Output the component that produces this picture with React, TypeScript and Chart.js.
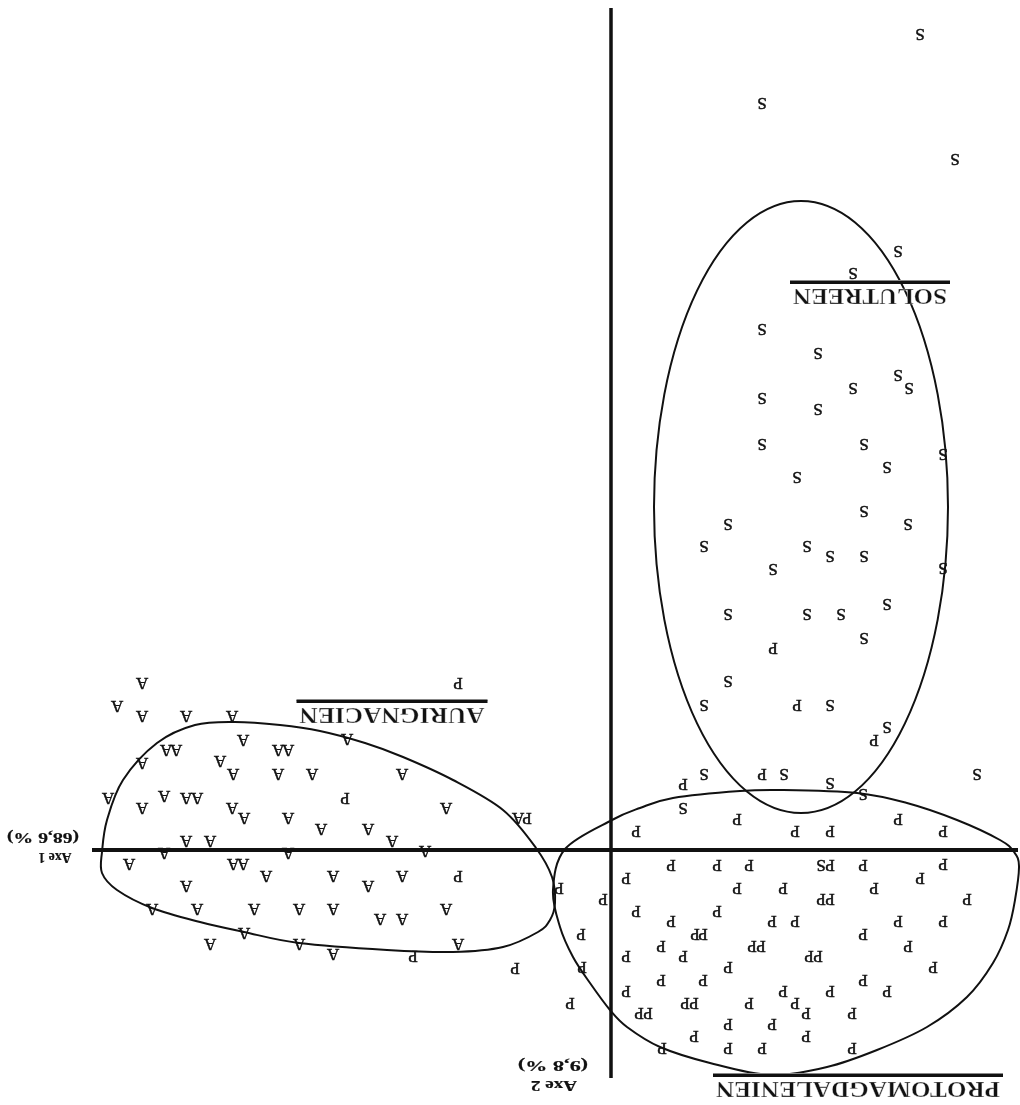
import React, { useEffect, useRef } from "react";
import { Chart, registerables } from "chart.js";

Chart.register(...registerables);

// Factor scores (Axe 1 horizontal, Axe 2 vertical). The printed figure is shown rotated 180°.
const aurignacien: [number, number][] = [
  [4.69, -1.68], [4.94, -1.45], [4.69, -1.35], [4.25, -1.35], [3.79, -1.35], [3.68, -1.11],
  [4.45, -1.01], [4.35, -1.01], [3.33, -1.01], [3.23, -1.01], [2.64, -1.12], [4.69, -0.88],
  [3.91, -0.9], [3.78, -0.77], [3.33, -0.77], [2.99, -0.77], [2.09, -0.77], [5.03, -0.53],
  [4.47, -0.55], [4.25, -0.53], [4.14, -0.53], [4.69, -0.43], [3.79, -0.43], [3.67, -0.33],
  [3.23, -0.33], [1.65, -0.43], [0.93, -0.33], [2.9, -0.22], [2.43, -0.22], [4.25, -0.1],
  [4.01, -0.1], [2.19, -0.1], [4.47, 0.02], [3.23, 0.02], [1.86, 0.0], [4.82, 0.13],
  [3.78, 0.13], [3.68, 0.13], [3.45, 0.25], [2.78, 0.25], [2.09, 0.25], [4.25, 0.35],
  [2.43, 0.35], [4.59, 0.58], [4.14, 0.58], [3.57, 0.58], [3.12, 0.58], [2.78, 0.58],
  [1.65, 0.58], [2.31, 0.68], [2.09, 0.68], [3.67, 0.82], [1.53, 0.93], [4.01, 0.93],
  [3.12, 0.93], [2.78, 1.03],
];

const protomagdalenien: [number, number][] = [
  [-1.62, -2.03], [-1.86, -1.46], [-2.63, -1.11], [-1.51, -0.77], [-0.72, -0.67], [-1.26, -0.32],
  [-2.87, -0.32], [-0.25, -0.2], [-1.84, -0.2], [-2.19, -0.2], [-3.32, -0.2], [-0.6, 0.14],
  [-1.06, 0.14], [-1.38, 0.14], [-2.19, 0.14], [-2.52, 0.14], [-3.32, 0.13], [-0.15, 0.27],
  [-3.09, 0.27], [0.52, 0.37], [-1.26, 0.37], [-1.72, 0.37], [-2.63, 0.37], [0.08, 0.48],
  [-2.1, 0.48], [-2.19, 0.48], [-3.56, 0.48], [-0.25, 0.6], [-1.06, 0.6], [-0.6, 0.7],
  [-1.61, 0.7], [-1.84, 0.7], [-2.87, 0.7], [-3.32, 0.7], [0.3, 0.83], [-0.84, 0.83],
  [-0.92, 0.83], [-2.52, 0.83], [-0.5, 0.95], [-1.41, 0.95], [-1.5, 0.95], [-2.97, 0.95],
  [-0.15, 1.05], [-0.72, 1.05], [-1.98, 1.05], [-2.07, 1.05], [-3.22, 1.16], [0.29, 1.16],
  [-1.17, 1.16], [-0.5, 1.29], [-0.92, 1.29], [-2.52, 1.29], [-0.15, 1.4], [-1.72, 1.4],
  [-2.19, 1.4], [-2.76, 1.4], [0.41, 1.52], [-0.74, 1.52], [-0.83, 1.52], [-1.38, 1.52],
  [-1.84, 1.52], [-0.28, 1.62], [-0.37, 1.62], [-1.95, 1.62], [-2.41, 1.62], [-1.17, 1.73],
  [-1.61, 1.73], [-0.83, 1.85], [-1.95, 1.85], [-0.51, 1.97], [-1.17, 1.97], [-1.51, 1.97],
  [-2.41, 1.97], [0.96, 1.17], [1.53, -1.68], [2.66, -0.53], [0.84, -0.33], [1.53, 0.25],
  [1.98, 1.05],
];

const solutreen: [number, number][] = [
  [-3.09, -8.17], [-1.51, -7.48], [-3.44, -6.92], [-2.87, -6.0], [-2.42, -5.78], [-1.51, -5.22],
  [-2.07, -4.98], [-2.87, -4.76], [-2.98, -4.63], [-2.42, -4.63], [-1.51, -4.53], [-2.07, -4.42],
  [-1.51, -4.07], [-2.53, -4.07], [-3.32, -3.97], [-2.76, -3.84], [-1.86, -3.74], [-2.53, -3.4],
  [-1.17, -3.27], [-2.97, -3.27], [-0.93, -3.05], [-1.96, -3.05], [-2.19, -2.95], [-2.53, -2.95],
  [-1.62, -2.82], [-3.32, -2.83], [-1.17, -2.37], [-1.96, -2.37], [-2.3, -2.37], [-2.76, -2.47],
  [-2.53, -2.13], [-1.17, -1.7], [-0.93, -1.46], [-2.19, -1.46], [-2.76, -1.24], [-0.93, -0.77],
  [-1.73, -0.77], [-3.66, -0.77], [-2.19, -0.68], [-2.52, -0.57], [-0.72, -0.43], [-2.1, 0.14],
];

// Group envelopes
const aurignacienHull: [number, number][] = [
  [4.54, -1.07], [4.16, -1.25], [3.76, -1.28], [3.31, -1.25], [2.91, -1.19], [2.46, -1.07],
  [2.08, -0.93], [1.58, -0.7], [1.08, -0.4], [0.75, -0.02], [0.59, 0.27], [0.56, 0.53],
  [0.61, 0.7], [0.73, 0.82], [1.08, 0.97], [1.58, 1.02], [2.24, 1.0], [3.12, 0.93],
  [3.67, 0.82], [4.11, 0.72], [4.59, 0.58], [4.94, 0.4], [5.09, 0.23], [5.09, 0.02],
  [5.04, -0.3], [4.88, -0.7],
];

const protomagdalenienHull: [number, number][] = [
  [0.46, -0.01], [-0.01, -0.3], [-0.29, -0.42], [-0.62, -0.52], [-1.29, -0.59], [-1.69, -0.6],
  [-2.46, -0.57], [-2.96, -0.47], [-3.46, -0.3], [-3.89, -0.1], [-4.03, 0.02], [-4.08, 0.16],
  [-4.04, 0.5], [-3.97, 0.8], [-3.82, 1.13], [-3.56, 1.47], [-3.16, 1.77], [-2.66, 2.0],
  [-2.16, 2.17], [-1.59, 2.25], [-0.99, 2.13], [-0.49, 1.97], [-0.16, 1.77], [0.01, 1.6],
  [0.21, 1.33], [0.38, 1.07], [0.51, 0.77], [0.58, 0.4],
];

// Solutréen ellipse: centre x, centre y, half-width, half-height
const solutreenEllipse = [-1.9, -3.43, 1.47, 3.06];

// Axes extents
const axis1Extent = [5.19, -4.07];
const axis2Extent = [-8.42, 2.28];

const groupNames = ["SOLUTREEN", "AURIGNACIEN", "PROTOMAGDALENIEN"];
const axisTitles = ["Axe 1", "(68,6 %)", "Axe 2", "(9,8 %)"];

const groupLabelLayout = [
  { x: -2.59, y: -5.55, w: 154 },
  { x: 2.19, y: -1.36, w: 185 },
  { x: -2.47, y: 2.38, w: 284 },
];
const axisTitleLayout = [
  { x: 5.56, y: 0.065, w: 33 },
  { x: 5.68, y: -0.13, w: 72 },
  { x: 0.57, y: 2.345, w: 46 },
  { x: 0.58, y: 2.145, w: 70 },
];

const LETTERS: Record<string, string> = { Aurignacien: "A", Protomagdalenien: "P", Solutreen: "S" };

const toXY = (arr: [number, number][]) => arr.map(([x, y]) => ({ x, y }));

function drawRotatedText(
  ctx: CanvasRenderingContext2D,
  text: string,
  px: number,
  py: number,
  width?: number,
  thicken?: number
) {
  ctx.save();
  ctx.translate(px, py);
  ctx.rotate(Math.PI);
  if (width) {
    const m = ctx.measureText(text).width;
    ctx.scale(width / m, 1);
  }
  ctx.fillText(text, 0, 0);
  if (thicken) {
    ctx.lineWidth = thicken;
    ctx.strokeText(text, 0, 0);
  }
  ctx.restore();
}

const lettersPlugin = {
  id: "letters",
  afterDatasetsDraw(chart: any) {
    const ctx: CanvasRenderingContext2D = chart.ctx;
    ctx.save();
    ctx.fillStyle = "#111";
    ctx.strokeStyle = "#111";
    ctx.font = "17px 'Liberation Serif', 'DejaVu Serif', serif";
    ctx.textAlign = "center";
    ctx.textBaseline = "middle";
    chart.data.datasets.forEach((ds: any, i: number) => {
      const letter = LETTERS[ds.label];
      if (!letter) return;
      const meta = chart.getDatasetMeta(i);
      meta.data.forEach((el: any) => drawRotatedText(ctx, letter, el.x, el.y, undefined, 0.5));
    });
    ctx.restore();
  },
};

const shapesPlugin = {
  id: "shapes",
  afterDatasetsDraw(chart: any) {
    const ctx: CanvasRenderingContext2D = chart.ctx;
    const sx = chart.scales.x;
    const sy = chart.scales.y;
    ctx.save();
    ctx.strokeStyle = "#111";
    ctx.lineWidth = 2;
    const closedSpline = (hull: [number, number][]) => {
      const p = hull.map(([x, y]) => [sx.getPixelForValue(x), sy.getPixelForValue(y)]);
      const n = p.length;
      ctx.beginPath();
      ctx.moveTo(p[0][0], p[0][1]);
      for (let i = 0; i < n; i++) {
        const p0 = p[(i - 1 + n) % n];
        const p1 = p[i];
        const p2 = p[(i + 1) % n];
        const p3 = p[(i + 2) % n];
        ctx.bezierCurveTo(
          p1[0] + (p2[0] - p0[0]) / 6, p1[1] + (p2[1] - p0[1]) / 6,
          p2[0] - (p3[0] - p1[0]) / 6, p2[1] - (p3[1] - p1[1]) / 6,
          p2[0], p2[1]
        );
      }
      ctx.closePath();
      ctx.stroke();
    };
    closedSpline(aurignacienHull);
    closedSpline(protomagdalenienHull);
    const [cx, cy, rx, ry] = solutreenEllipse;
    const pcx = sx.getPixelForValue(cx);
    const pcy = sy.getPixelForValue(cy);
    const prx = Math.abs(sx.getPixelForValue(cx + rx) - pcx);
    const pry = Math.abs(sy.getPixelForValue(cy + ry) - pcy);
    ctx.beginPath();
    ctx.ellipse(pcx, pcy, prx, pry, 0, 0, Math.PI * 2);
    ctx.stroke();

    // group names (underlined, printed upside down)
    ctx.font = "bold 24px 'Liberation Serif', 'DejaVu Serif', serif";
    ctx.textAlign = "center";
    ctx.textBaseline = "middle";
    groupNames.forEach((name, i) => {
      const lay = groupLabelLayout[i];
      const px = sx.getPixelForValue(lay.x);
      const py = sy.getPixelForValue(lay.y);
      ctx.save();
      ctx.translate(px, py);
      ctx.rotate(Math.PI);
      const m = ctx.measureText(name).width;
      ctx.save();
      ctx.scale(lay.w / m, 1);
      ctx.fillStyle = "#111";
      ctx.fillText(name, 0, 0);
      ctx.strokeStyle = "rgba(255,255,255,0.55)";
      ctx.lineWidth = 0.7;
      ctx.strokeText(name, 0, 0);
      ctx.restore();
      ctx.fillStyle = "#888";
      ctx.fillRect(-lay.w / 2 - 3, 13, lay.w + 6, 2);
      ctx.fillStyle = "#111";
      ctx.fillRect(-lay.w / 2 - 3, 11, lay.w + 6, 3);
      ctx.restore();
    });

    // axis titles
    ctx.fillStyle = "#111";
    ctx.strokeStyle = "#111";
    ctx.font = "bold 15px 'Liberation Serif', 'DejaVu Serif', serif";
    axisTitles.forEach((t, i) => {
      const lay = axisTitleLayout[i];
      drawRotatedText(ctx, t, sx.getPixelForValue(lay.x), sy.getPixelForValue(lay.y), lay.w, 0.2);
    });
    ctx.restore();
  },
};

export default function App() {
  const ref = useRef<HTMLCanvasElement | null>(null);
  useEffect(() => {
    if (!ref.current) return;
    const chart = new Chart(ref.current, {
      type: "scatter",
      data: {
        datasets: [
          {
            label: "Axe 1",
            data: [{ x: axis1Extent[0], y: 0 }, { x: axis1Extent[1], y: 0 }],
            showLine: true,
            borderColor: "#111",
            borderWidth: 4,
            pointRadius: 0,
          },
          {
            label: "Axe 2",
            data: [{ x: 0, y: axis2Extent[0] }, { x: 0, y: axis2Extent[1] }],
            showLine: true,
            borderColor: "#111",
            borderWidth: 3.5,
            pointRadius: 0,
          },
          { label: "Aurignacien", data: toXY(aurignacien), pointRadius: 0, pointHoverRadius: 0 },
          { label: "Protomagdalenien", data: toXY(protomagdalenien), pointRadius: 0, pointHoverRadius: 0 },
          { label: "Solutreen", data: toXY(solutreen), pointRadius: 0, pointHoverRadius: 0 },
        ],
      },
      options: {
        animation: false,
        responsive: false,
        devicePixelRatio: 1,
        layout: { padding: 0 },
        plugins: { legend: { display: false }, tooltip: { enabled: false } },
        scales: {
          x: { type: "linear", min: -4.09, max: 6.11, reverse: true, display: false },
          y: { type: "linear", min: -8.5, max: 2.55, reverse: true, display: false },
        },
      },
      plugins: [shapesPlugin, lettersPlugin],
    });
    return () => chart.destroy();
  }, []);
  return (
    <div style={{ position: "absolute", left: 0, top: 0, width: 1020, height: 1105, background: "#fff" }}>
      <canvas ref={ref} width={1020} height={1105} style={{ display: "block", width: 1020, height: 1105 }} />
    </div>
  );
}
